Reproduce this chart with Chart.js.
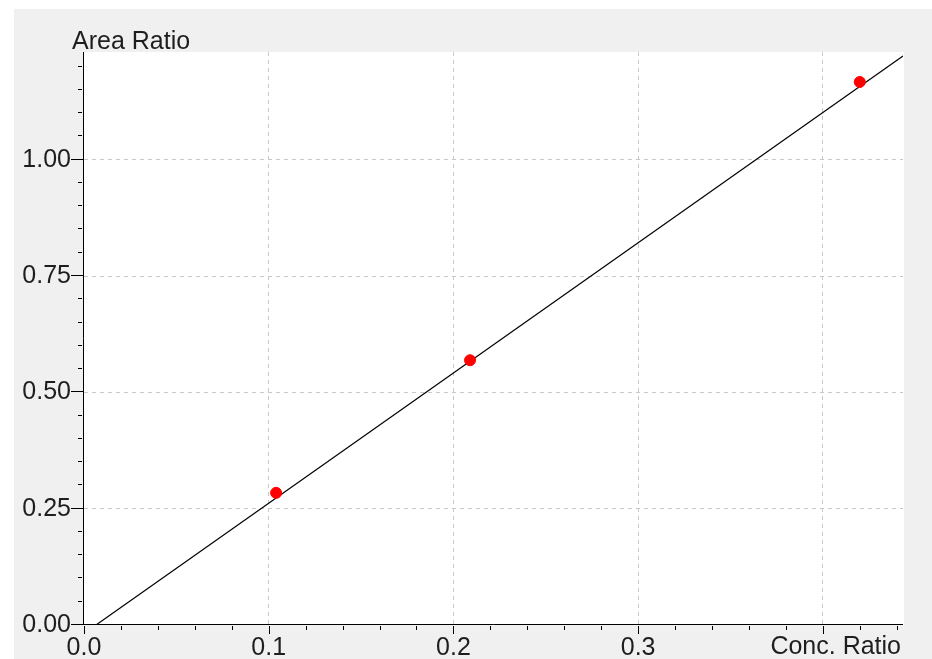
<!DOCTYPE html>
<html>
<head>
<meta charset="utf-8">
<script src="https://cdn.jsdelivr.net/npm/chart.js@4"></script>
<style>
    html, body { margin: 0; padding: 0; background: #fff; }
    #wrap {
        position: absolute; left: 14px; top: 9px;
        width: 918px; height: 650px; background: #f0f0f0;
    }
</style>
</head>
<body>
<div id="wrap"><canvas id="calChart"></canvas></div>
<script>
    // calibration points (conc. ratio / area ratio)
    const concRatio = [0.104, 0.209, 0.420];
    const areaRatio = [0.284, 0.569, 1.167];

    // fitted line, two ends
    const fitX = [0.0065, 0.4434];
    const fitY = [0.0, 1.2229];

    const xMajor = [0, 0.1, 0.2, 0.3, 0.4];
    const xLabels = ['0.0', '0.1', '0.2', '0.3', ''];
    const yMajor = [0, 0.25, 0.5, 0.75, 1.0];
    const yLabels = ['0.00', '0.25', '0.50', '0.75', '1.00'];

    const X_MAX = 0.4434, Y_MAX = 1.2314;
    const FONT = '"Liberation Sans", Arial, sans-serif';
    const TEXT = '#1e1e1e';

    const xTicks = [];
    for (let i = 0; i <= 22; i++) xTicks.push(+(i * 0.02).toFixed(2));
    const yTicks = [];
    for (let i = 0; i <= 24; i++) yTicks.push(+(i * 0.05).toFixed(2));

    function majorIndex(list, v) {
        return list.findIndex(m => Math.abs(m - v) < 1e-9);
    }

    const framePlugin = {
        id: 'frame',
        beforeDraw(chart) {
            const a = chart.chartArea, ctx = chart.ctx;
            ctx.save();
            ctx.fillStyle = '#ffffff';
            ctx.fillRect(a.left, a.top, a.right - a.left + 1, a.bottom - a.top);
            ctx.restore();
        },
        afterDraw(chart) {
            const a = chart.chartArea, ctx = chart.ctx;
            const xs = chart.scales.x, ys = chart.scales.y;
            ctx.save();
            ctx.strokeStyle = '#000';
            ctx.lineWidth = 1;
            ctx.beginPath();
            // axis lines
            ctx.moveTo(a.left - 0.5, a.top);
            ctx.lineTo(a.left - 0.5, a.bottom);
            ctx.moveTo(a.left - 0.5, a.bottom - 0.5);
            ctx.lineTo(a.right, a.bottom - 0.5);
            // tick marks
            xTicks.forEach(v => {
                const px = Math.round(xs.getPixelForValue(v)) + 0.5;
                const len = majorIndex(xMajor, v) >= 0 ? 8 : 4;
                ctx.moveTo(px, a.bottom + 1);
                ctx.lineTo(px, a.bottom + 1 + len);
            });
            yTicks.forEach(v => {
                const py = Math.round(ys.getPixelForValue(v)) - 0.5;
                const maj = majorIndex(yMajor, v) >= 0;
                ctx.moveTo(a.left - (maj ? 13 : 6), py);
                ctx.lineTo(a.left - (maj ? 1 : 2), py);
            });
            ctx.stroke();

            ctx.fillStyle = TEXT;
            ctx.font = '25px ' + FONT;
            ctx.textBaseline = 'alphabetic';
            ctx.textAlign = 'left';
            ctx.fillText('Area Ratio', 58, 40);
            ctx.textAlign = 'right';
            ctx.fillText('Conc. Ratio', a.right - 2, 645);
            ctx.restore();
        }
    };

    new Chart(document.getElementById('calChart'), {
        type: 'scatter',
        data: {
            datasets: [{
                label: 'fit',
                data: fitX.map((x, i) => ({ x: x, y: fitY[i] })),
                showLine: true,
                borderColor: '#000',
                borderWidth: 1.2,
                pointRadius: 0,
                order: 2
            }, {
                label: 'points',
                data: concRatio.map((x, i) => ({ x: x, y: areaRatio[i] })),
                backgroundColor: '#ff0000',
                borderColor: '#ff0000',
                borderWidth: 1,
                pointRadius: 5.5,
                order: 1
            }]
        },
        options: {
            responsive: true,
            maintainAspectRatio: false,
            animation: false,
            layout: { padding: { top: 43, right: 29, left: 0, bottom: 0 } },
            plugins: { legend: { display: false }, tooltip: { enabled: false } },
            scales: {
                x: {
                    type: 'linear', min: 0, max: X_MAX,
                    afterBuildTicks: s => { s.ticks = xTicks.map(v => ({ value: v })); },
                    afterFit: s => { s.height = 34; },
                    grid: {
                        drawTicks: false,
                        color: c => {
                            const k = majorIndex(xMajor, c.tick.value);
                            return k > 0 ? '#c8c8c8' : 'rgba(0,0,0,0)';
                        }
                    },
                    border: { display: false, dash: [4, 4] },
                    ticks: {
                        autoSkip: false, maxRotation: 0, padding: 8,
                        color: TEXT, font: { family: FONT, size: 25 },
                        callback: v => {
                            const k = majorIndex(xMajor, v);
                            return k >= 0 ? xLabels[k] : '';
                        }
                    }
                },
                y: {
                    type: 'linear', min: 0, max: Y_MAX,
                    afterBuildTicks: s => { s.ticks = yTicks.map(v => ({ value: v })); },
                    afterFit: s => { s.width = 70; },
                    grid: {
                        drawTicks: false,
                        color: c => {
                            const k = majorIndex(yMajor, c.tick.value);
                            return k > 0 ? '#c8c8c8' : 'rgba(0,0,0,0)';
                        }
                    },
                    border: { display: false, dash: [4, 4] },
                    ticks: {
                        autoSkip: false, padding: 13,
                        color: TEXT, font: { family: FONT, size: 25 },
                        callback: v => {
                            const k = majorIndex(yMajor, v);
                            return k >= 0 ? yLabels[k] : '';
                        }
                    }
                }
            }
        },
        plugins: [framePlugin]
    });
</script>
</body>
</html>
